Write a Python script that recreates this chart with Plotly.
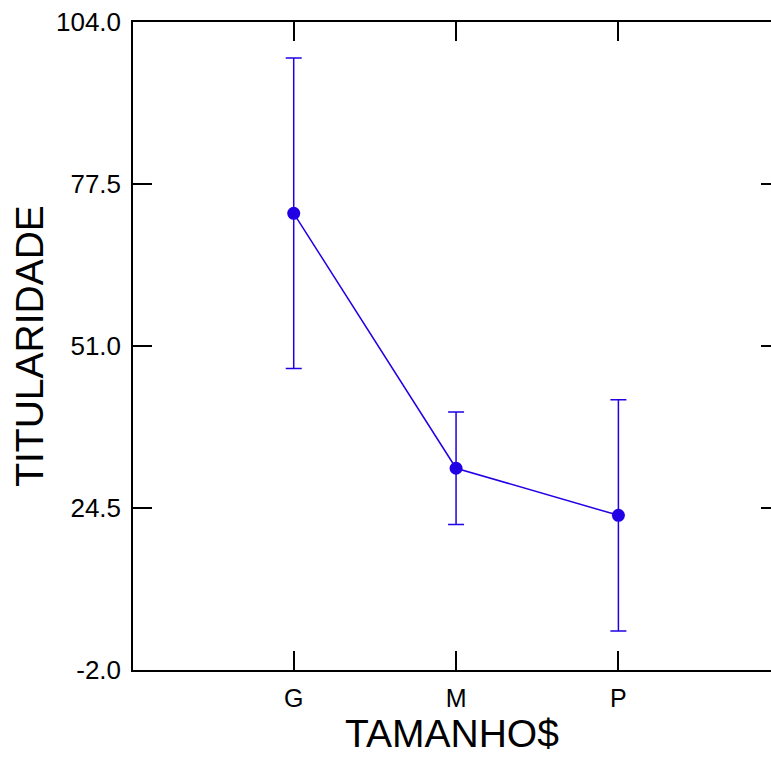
import plotly.graph_objects as go

categories = ["G", "M", "P"]
x_pos = [1, 2, 3]
means = [72.7, 31.0, 23.3]
errors = [25.4, 9.2, 18.9]
y_ticks = [-2.0, 24.5, 51.0, 77.5, 104.0]
y_ticktext = ["-2.0", "24.5", "51.0", "77.5", "104.0"]

blue = "#2200E6"
font_family = "Liberation Sans, Arial, sans-serif"

fig = go.Figure()
fig.add_trace(go.Scatter(
    x=x_pos, y=means, mode="lines+markers",
    line=dict(color=blue, width=1.5),
    marker=dict(color=blue, size=13),
    error_y=dict(type="data", array=errors, visible=True,
                 color=blue, thickness=1.5, width=8),
    showlegend=False,
))
# invisible trace for right-side ticks
fig.add_trace(go.Scatter(x=x_pos, y=means, yaxis="y2", mode="markers",
                         marker=dict(opacity=0), showlegend=False, hoverinfo="skip"))

fig.update_layout(
    width=771, height=760,
    margin=dict(l=133, r=0, t=22, b=90, autoexpand=False),
    paper_bgcolor="white", plot_bgcolor="white",
    font=dict(family=font_family, color="black"),
    xaxis=dict(
        range=[0.01, 3.94], tickmode="array", tickvals=x_pos, ticktext=categories,
        ticks="inside", ticklen=19, tickwidth=1.5, tickcolor="black",
        showline=True, linecolor="black", linewidth=1.5, mirror="ticks",
        showgrid=False, zeroline=False, automargin=False,
        tickfont=dict(size=25), ticklabelstandoff=5,
        title=dict(text="TAMANHO$", font=dict(size=39), standoff=4),
    ),
    yaxis=dict(
        range=[-2.0, 104.0], tickmode="array", tickvals=y_ticks, ticktext=y_ticktext,
        ticks="inside", ticklen=19, tickwidth=1.5, tickcolor="black",
        showline=True, linecolor="black", linewidth=1.5,
        showgrid=False, zeroline=False, automargin=False,
        tickfont=dict(size=26), ticklabelstandoff=5,
        title=dict(text="TITULARIDADE", font=dict(size=39), standoff=0),
    ),
    yaxis2=dict(
        range=[-2.0, 104.0], overlaying="y", side="right",
        tickmode="array", tickvals=y_ticks, showticklabels=False,
        ticks="inside", ticklen=10, tickwidth=1.5, tickcolor="black",
        showline=False, showgrid=False, zeroline=False, automargin=False,
    ),
)

fig.write_html("out.html", config={"displayModeBar": False},
               post_script="document.body.style.margin='0';")
